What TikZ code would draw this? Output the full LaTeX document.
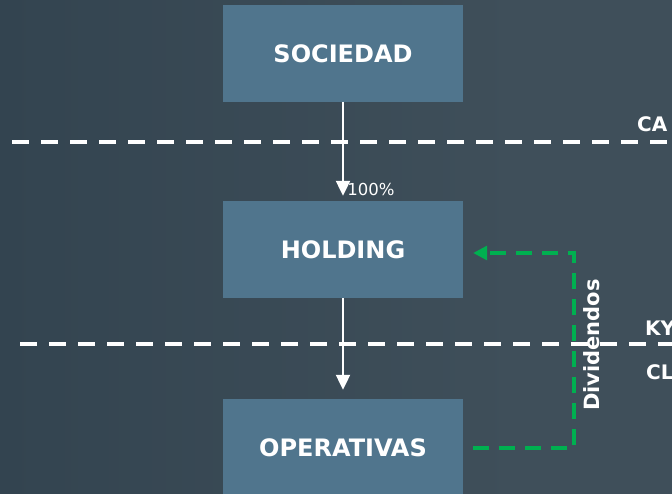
\documentclass[tikz,border=0pt]{standalone}
\usepackage{fontspec}
\setmainfont{DejaVu Sans}
\usetikzlibrary{arrows.meta}
\definecolor{bgc}{HTML}{3F4F5A}
\definecolor{bgd}{HTML}{334450}
\definecolor{boxc}{HTML}{50758D}
\definecolor{grn}{HTML}{00B050}
\tikzset{
  ent/.style={fill=boxc, minimum width=240pt, minimum height=97pt, inner sep=0pt, text=white, font=\fontsize{24}{28}\selectfont\bfseries},
  border/.style={draw=white, line width=4.5pt, dash pattern=on 17pt off 12pt},
  juris/.style={text=white, font=\fontsize{20}{24}\selectfont\bfseries, inner sep=0pt},
  flow/.style={draw=white, line width=2.2pt, -{Triangle[length=15pt,width=14pt]}},
  div/.style={draw=grn, line width=3.2pt, dash pattern=on 16pt off 10pt, -{Triangle[length=14pt,width=14pt]}}
}
\begin{document}
\begin{tikzpicture}[x=1pt,y=-1pt]
\fill[bgc] (0,0) rectangle (672,494);
\useasboundingbox (0,0) rectangle (672,494);
\shade[left color=bgd, right color=bgc] (0,0) rectangle (520,494);
\node[ent] (soc) at (343,53.5) {SOCIEDAD};
\node[ent] (hol) at (343,249.5) {HOLDING};
\node[ent] (ope) at (343,447.5) {OPERATIVAS};
\coordinate (l1a) at (12,142);
\coordinate (l1b) at (672,142);
\coordinate (l2a) at (20,344);
\coordinate (l2b) at (672,344);
\draw[border] (l1a) -- (l1b);
\draw[border] (l2a) -- (l2b);
\node[juris, anchor=west] (ca) at (637,124) {CA};
\node[juris, anchor=west] (ky) at (645,328) {KY};
\node[juris, anchor=west] (cl) at (646,372) {CL};
\draw[flow] (soc.south) -- ([yshift=5pt]hol.north) node[pos=0.93, right=0pt, font=\fontsize{16.5}{20}\selectfont, text=white] (pct) {100\%};
\draw[flow] (hol.south) -- ([yshift=9pt]ope.north);
\coordinate (g1) at (574,448);
\coordinate (g2) at (574,253);
\draw[div] ([xshift=10pt]ope.east |- g1) -- (g1) -- (g2) -- ([xshift=10pt]hol.east |- g2);
\node[rotate=90, text=white, font=\fontsize{21}{24}\selectfont\bfseries] (dv) at (592,345) {Dividendos};
\end{tikzpicture}
\end{document}
